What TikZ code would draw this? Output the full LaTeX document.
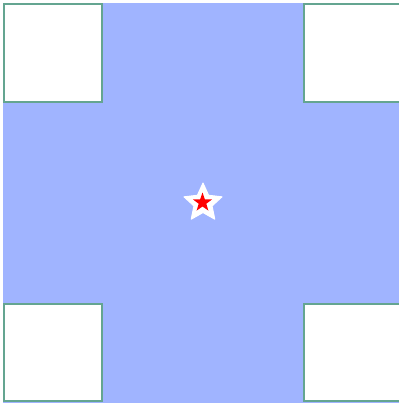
\documentclass[tikz,border=0pt]{standalone}
\usetikzlibrary{shapes.geometric}
\definecolor{crossblue}{RGB}{160,180,255}
\definecolor{edgeteal}{RGB}{100,165,145}
\definecolor{starred}{RGB}{255,0,0}
\tikzset{
  corner/.style={fill=white, draw=edgeteal, line width=1.8bp},
  starshape/.style={star, star points=5, inner sep=0pt, outer sep=0pt},
}
\begin{document}
\begin{tikzpicture}[x=1bp,y=-1bp]
\useasboundingbox (0,0) rectangle (399,403);
\clip (0,0) rectangle (399,403);
\fill[crossblue] (3,3) rectangle (399,403);
\draw[corner] (3.9,3.9) rectangle (102.1,102.1);
\draw[corner] (304.3,3.9) rectangle (410,102.1);
\draw[corner] (3.9,304.3) rectangle (102.1,400.6);
\draw[corner] (304.3,304.3) rectangle (410,400.6);
\node[starshape, star point ratio=2.1, fill=white, draw=white, line width=1bp, line join=round, minimum size=40bp] (outerstar) at (203,203) {};
\node[starshape, star point ratio=2.5, fill=starred, minimum size=20bp] (innerstar) at (202.5,202.5) {};
\end{tikzpicture}
\end{document}
